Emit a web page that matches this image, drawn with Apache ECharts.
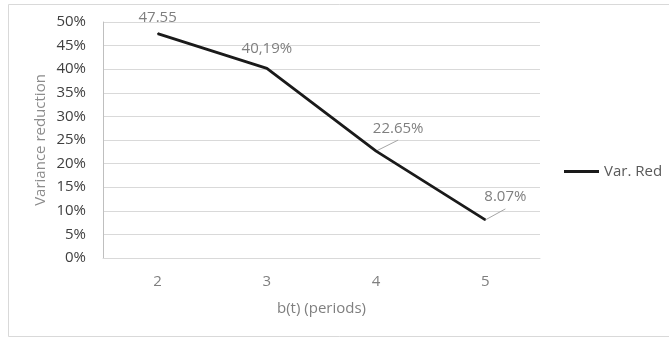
<!DOCTYPE html>
<html>
<head>
<meta charset="utf-8">
<script src="https://cdn.jsdelivr.net/npm/echarts@6/dist/echarts.min.js"></script>
<style>
html,body{margin:0;padding:0;background:#fff;}
#c{width:669px;height:338px;}
</style>
</head>
<body>
<div id="c"></div>
<script>
var categories = ['2', '3', '4', '5'];
var varRed = [47.55, 40.19, 22.65, 8.07];
var pointLabels = ['47.55', '40,19%', '22.65%', '8.07%'];
var yTicks = { min: 0, max: 50, interval: 5 };
var labelOffsets = [[0, -16], [0, -20], [22, -22], [20, -23]];
var guideEnds = [null, null, [22, -11], [20, -11]];

var chart = echarts.init(document.getElementById('c'), null, { renderer: 'canvas' });
var font = '"Open Sans", sans-serif';

chart.setOption({
  animation: false,
  backgroundColor: '#fff',
  graphic: [{
    type: 'rect',
    shape: { x: 8.5, y: 4.5, width: 670, height: 332 },
    style: { fill: 'none', stroke: '#d9d9d9', lineWidth: 1 },
    silent: true
  }],
  grid: { left: 103, right: 129, top: 22, bottom: 80 },
  legend: {
    left: 559, top: 159,
    itemWidth: 35, itemHeight: 3,
    data: [{ name: 'Var. Red', icon: 'rect' }],
    textStyle: { fontFamily: font, fontSize: 15, color: '#595959' }
  },
  xAxis: {
    type: 'category',
    data: categories,
    boundaryGap: true,
    name: 'b(t) (periods)',
    nameLocation: 'middle',
    nameGap: 43,
    nameTextStyle: { fontFamily: font, fontSize: 15, color: '#7f7f7f' },
    axisLine: { show: true, lineStyle: { color: '#d9d9d9', width: 1 } },
    axisTick: { show: false },
    axisLabel: { fontFamily: font, fontSize: 15, color: '#7f7f7f', margin: 16 }
  },
  yAxis: {
    type: 'value',
    min: yTicks.min, max: yTicks.max, interval: yTicks.interval,
    name: 'Variance reduction',
    nameLocation: 'middle',
    nameGap: 55,
    nameMoveOverlap: false,
    nameTextStyle: { fontFamily: font, fontSize: 15, color: '#8c8c8c' },
    axisLine: { show: true, lineStyle: { color: '#bfbfbf', width: 1 } },
    axisTick: { show: false },
    splitLine: { show: true, lineStyle: { color: '#d9d9d9', width: 1 } },
    axisLabel: { fontFamily: font, fontSize: 15, color: '#404040', margin: 17, formatter: '{value}%' }
  },
  series: [{
    name: 'Var. Red',
    type: 'line',
    data: varRed,
    symbol: 'circle',
    symbolSize: 1,
    z: 3,
    itemStyle: { color: '#1a1a1a' },
    lineStyle: { color: '#1a1a1a', width: 2.8 },
    label: {
      show: true,
      position: 'inside',
      fontFamily: font, fontSize: 15, color: '#7f7f7f',
      formatter: function (p) { return pointLabels[p.dataIndex]; }
    },
    labelLayout: function (p) {
      return { dx: labelOffsets[p.dataIndex][0], dy: labelOffsets[p.dataIndex][1] };
    }
  }, {
    name: 'guides',
    type: 'custom',
    silent: true,
    z: 2,
    data: varRed.map(function (v, i) { return [i, v]; }),
    renderItem: function (params, api) {
      var i = params.dataIndex;
      var g = guideEnds[i];
      if (!g) return null;
      var p = api.coord([api.value(0), api.value(1)]);
      return {
        type: 'line',
        shape: { x1: p[0], y1: p[1], x2: p[0] + g[0], y2: p[1] + g[1] },
        style: { stroke: '#a6a6a6', lineWidth: 1 }
      };
    }
  }]
});
</script>
</body>
</html>
